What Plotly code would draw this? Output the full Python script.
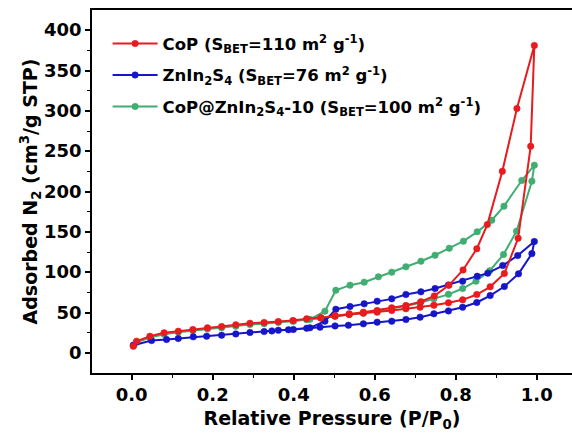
import plotly.graph_objects as go

# CoP
cop_ads_p = [0.004,0.012,0.045,0.080,0.115,0.151,0.187,0.222,0.257,0.292,0.327,0.362,0.398,0.432,0.467,0.502,0.537,0.572,0.606,0.642,0.677,0.712,0.746,0.782,0.817,0.852,0.885,0.920,0.954,0.985,0.994]
cop_ads_v = [8.2,14.4,20.6,24.8,26.8,28.9,31.0,32.6,34.7,36.7,37.6,38.8,40.0,42.2,43.4,45.4,47.5,49.1,50.4,52.4,54.6,56.6,59.0,62.0,65.7,72.3,81.8,98.3,142,256,381]
cop_des_p = [0.951,0.915,0.878,0.852,0.818,0.783,0.747,0.714,0.677,0.642,0.606,0.572,0.537,0.502,0.467]
cop_des_v = [303,225,159,129,102.7,83.7,70.6,63.4,58.6,55.8,52.4,50.4,48.3,46.2,43.4]

# ZnIn2S4
zis_ads_p = [0.004,0.049,0.086,0.115,0.152,0.185,0.222,0.257,0.292,0.327,0.362,0.399,0.432,0.465,0.502,0.535,0.572,0.606,0.642,0.677,0.712,0.746,0.782,0.817,0.852,0.885,0.920,0.955,0.988,0.994]
zis_ads_v = [9.5,15.2,16.5,17.7,19.8,20.6,21.8,23.5,25.2,26.4,28.0,28.9,30.5,31.8,33.4,34.2,35.9,38.0,39.2,41.3,44.2,48.3,52.0,56.6,62.4,71.0,82.2,97.9,123,138]
zis_des_p = [0.953,0.916,0.879,0.853,0.817,0.782,0.749,0.714,0.677,0.642,0.606,0.574,0.539,0.504,0.477,0.440,0.387,0.346]
zis_des_v = [120.6,108.2,98.8,95.0,88.8,84.2,79.7,75.6,72.3,66.9,64.0,60.7,57.4,54.0,39.2,31.0,28.5,27.2]

# CoP@ZnIn2S4-10
czs_ads_p = [0.004,0.012,0.045,0.080,0.115,0.151,0.187,0.222,0.257,0.292,0.327,0.362,0.398,0.432,0.467,0.502,0.537,0.572,0.606,0.642,0.677,0.712,0.746,0.782,0.817,0.850,0.884,0.918,0.950,0.988,0.994]
czs_ads_v = [9,13,19,23,25.5,27.5,29.5,31,33,35,36,37.5,39,41,43,45.5,47.5,49.5,52,55,58,62,67,72.5,79.7,88.8,101.8,121.9,150.8,212.8,232.6]
czs_des_p = [0.963,0.919,0.889,0.853,0.819,0.784,0.749,0.714,0.677,0.642,0.609,0.574,0.539,0.504,0.477,0.440,0.400]
czs_des_v = [213.6,181.8,164.4,150.0,138.4,129.7,121.0,113.6,106.6,100.0,94.2,87.6,83.9,77.6,51.6,41.5,39.5]

names = ["<b>CoP (S<sub>BET</sub>=110 m<sup>2</sup> g<sup>-1</sup>)</b>",
         "<b>ZnIn<sub>2</sub>S<sub>4</sub> (S<sub>BET</sub>=76 m<sup>2</sup> g<sup>-1</sup>)</b>",
         "<b>CoP@ZnIn<sub>2</sub>S<sub>4</sub>-10 (S<sub>BET</sub>=100 m<sup>2</sup> g<sup>-1</sup>)</b>"]
colors = ["#e81b1f", "#1616c8", "#40ad72"]

series = [
    (cop_ads_p + cop_des_p, cop_ads_v + cop_des_v),
    (zis_ads_p + zis_des_p, zis_ads_v + zis_des_v),
    (czs_ads_p + czs_des_p, czs_ads_v + czs_des_v),
]

fig = go.Figure()
for i in [2, 1, 0]:
    xs, ys = series[i]
    fig.add_trace(go.Scatter(
        x=xs, y=ys, mode="lines+markers", name=names[i], legendrank=i + 1,
        legendgroup="g%d" % i,
        line=dict(color=colors[i], width=2),
        marker=dict(color=colors[i], size=6.5, symbol="circle",
                    line=dict(color=colors[i], width=0.5)),
    ))

font_family = "DejaVu Sans"
fig.update_layout(
    width=572, height=434,
    margin=dict(l=92, r=0, t=10, b=61),
    paper_bgcolor="white", plot_bgcolor="white",
    font=dict(family=font_family, color="black"),
    showlegend=True,
    legend=dict(x=0.0325, y=0.955, xanchor="left", yanchor="top",
                bgcolor="rgba(0,0,0,0)", borderwidth=0,
                font=dict(size=16.5, family=font_family, color="black"),
                itemwidth=45, tracegroupgap=7),
)
fig.update_xaxes(
    automargin=False,
    range=[-0.098, 1.087], tickvals=[0, 0.2, 0.4, 0.6, 0.8, 1.0],
    ticktext=["0.0", "0.2", "0.4", "0.6", "0.8", "1.0"],
    showgrid=False, zeroline=False,
    showline=True, linecolor="black", linewidth=1.5, mirror=True,
    ticks="outside", ticklen=5, tickwidth=1.5, tickcolor="black",
    minor=dict(tickvals=[0.1, 0.3, 0.5, 0.7, 0.9], ticks="outside", ticklen=3, tickwidth=1.2, tickcolor="black"),
    tickfont=dict(size=18, family=font_family, color="black", weight="bold"),
    title=dict(text="<b>Relative Pressure (P/P<sub>0</sub>)</b>", font=dict(size=19, family=font_family), standoff=7),
)
fig.update_yaxes(
    automargin=False,
    range=[-25, 425], tickvals=[0, 50, 100, 150, 200, 250, 300, 350, 400],
    showgrid=False, zeroline=False,
    showline=True, linecolor="black", linewidth=1.5,
    ticks="outside", ticklen=5, tickwidth=1.5, tickcolor="black",
    minor=dict(tickvals=[25, 75, 125, 175, 225, 275, 325, 375], ticks="outside", ticklen=3, tickwidth=1.2, tickcolor="black"),
    tickfont=dict(size=18, family=font_family, color="black", weight="bold"),
    title=dict(text="<b>Adsorbed N<sub>2</sub> (cm<sup>3</sup>/g STP)</b>", font=dict(size=19, family=font_family), standoff=0),
)

fig.write_html("out.html", config={"displayModeBar": False},
               post_script="document.body.style.margin='0';document.body.style.overflow='hidden';")
